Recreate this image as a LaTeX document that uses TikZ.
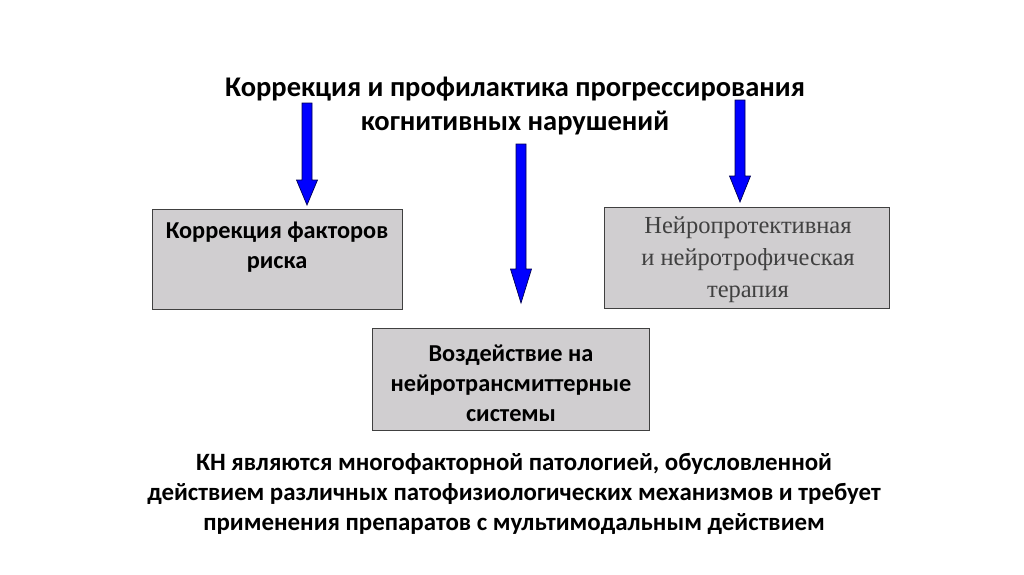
\documentclass[tikz,border=0pt]{standalone}
\usepackage{fontspec}
\setmainfont{Carlito}
\newfontfamily\serifcyr{Liberation Serif}
\usetikzlibrary{calc}

\definecolor{boxgrey}{RGB}{208,206,208}
\definecolor{arrowblue}{RGB}{0,0,255}
\definecolor{arrowedge}{RGB}{0,0,80}

\newcommand*{\shaft}{5}
\newcommand*{\head}{10.5}
\newcommand*{\blockarrow}[3]{%
	\filldraw[blockarrow] ($(#1)+(-\shaft,0)$) -- ($(#1)+(\shaft,0)$)
		-- ($(#2)+(\shaft,-#3)$) -- ($(#2)+(\head,-#3)$) -- (#2)
		-- ($(#2)+(-\head,-#3)$) -- ($(#2)+(-\shaft,-#3)$) -- cycle;}

\begin{document}
\begin{tikzpicture}
[
	x=1pt, y=-1pt,
	greybox/.style={draw=black!75,fill=boxgrey,line width=0.8pt,anchor=north west,inner sep=0pt},
	boxtext/.style={align=center,font=\bfseries\fontsize{24.3}{30}\selectfont},
	blockarrow/.style={draw=arrowedge,fill=arrowblue,line width=0.7pt,line join=miter}
]

	\useasboundingbox[fill=white] (0,0) rectangle (1024,574);

	% title
	\node[align=center,font=\bfseries\fontsize{28.5}{34}\selectfont] (title) at (515,106)
		{Коррекция и профилактика прогрессирования\\когнитивных нарушений};

	% boxes
	\node[greybox,minimum width=250pt,minimum height=100pt] (risk) at (152,209) {};
	\node[boxtext] (risktext) at (277,247) {Коррекция факторов\\риска};

	\node[greybox,minimum width=285pt,minimum height=101pt] (neuro) at (604,207) {};
	\node[align=center,text=black!75,font=\serifcyr\fontsize{24.5}{32}\selectfont] (neurotext) at (748,260)
		{Нейропротективная\\ и нейротрофическая\\терапия};

	\node[greybox,minimum width=277pt,minimum height=102pt] (trans) at (372,328) {};
	\node[boxtext] (transtext) at (511,383) {Воздействие на\\нейротрансмиттерные\\системы};

	% arrows
	\coordinate (riskfrom) at (307,103);
	\coordinate (riskto) at (307,205);
	\coordinate (transfrom) at (521,144);
	\coordinate (transto) at (521,303);
	\coordinate (neurofrom) at (740,100);
	\coordinate (neuroto) at (740,202);
	\blockarrow{riskfrom}{riskto}{25}
	\blockarrow{transfrom}{transto}{34}
	\blockarrow{neurofrom}{neuroto}{26}

	% conclusion
	\node[align=center,font=\bfseries\fontsize{24.9}{30}\selectfont] (summary) at (514,494)
		{КН являются многофакторной патологией, обусловленной\\
		действием различных патофизиологических механизмов и требует\\
		применения препаратов с мультимодальным действием};

\end{tikzpicture}
\end{document}
